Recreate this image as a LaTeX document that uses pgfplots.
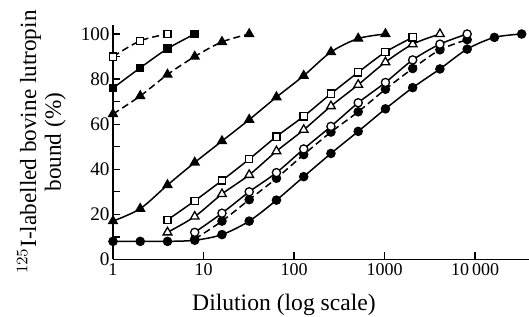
\documentclass[border=0pt]{standalone}
\usepackage{fontspec}
\setmainfont{Liberation Serif}
\usepackage{pgfplots}
\pgfplotsset{compat=1.18}
\begin{document}
\begin{tikzpicture}
\begin{axis}[
  scale only axis,
  width=208pt, height=117.2pt,
  xmode=log, log basis x=10,
  xmin=1, xmax=39500,
  ymin=0, ymax=104,
  axis x line*=bottom, axis y line*=left,
  axis line style={line width=0.75pt,-},
  tick align=inside,
  major tick length=3.5pt, minor tick length=3.5pt,
  tick style={line width=0.65pt,black},
  xtick={1,10,100,1000,10000},
  xticklabels={1,10,100,1000,10\,000},
  xminorticks=false,
  ytick={0,20,40,60,80,100},
  minor ytick={10,30,50,70,90},
  /pgf/number format/assume math mode=true,
  xticklabel style={font=\fontsize{9}{10}\selectfont, inner sep=2pt},
  yticklabel style={font=\fontsize{9.6}{11}\selectfont, inner sep=1.5pt},
  xlabel={Dilution (log scale)},
  xlabel style={font=\fontsize{11.8}{13}\selectfont, at={(axis description cs:0.411,-0.195)}, anchor=center},
  ylabel={$^{125}$I-labelled bovine lutropin\\bound (\%)},
  ylabel style={font=\fontsize{11.6}{12.3}\selectfont, align=center, at={(axis description cs:-0.172,0.5)}, anchor=center},
  clip=false,
  every axis plot/.append style={black, line width=0.75pt, smooth, tension=0.5},
  sq/.style={mark=square*, mark size=1.8pt, mark options={solid, fill=white, line width=0.65pt}},
  fsq/.style={mark=square*, mark size=1.8pt, mark options={solid, fill=black, line width=0.65pt}},
  ci/.style={mark=*, mark size=2.05pt, mark options={solid, fill=white, line width=0.65pt}},
  fci/.style={mark=*, mark size=2.05pt, mark options={solid, fill=black, line width=0.65pt}},
  tr/.style={mark=triangle*, mark size=2.5pt, mark options={solid, fill=white, line width=0.65pt}},
  ftr/.style={mark=triangle*, mark size=2.5pt, mark options={solid, fill=black, line width=0.65pt}},
  dsh/.style={dash pattern=on 3.5pt off 2pt},
]
\coordinate (sw) at (rel axis cs:0,0);
\coordinate (ne) at (rel axis cs:1,1);
% filled circles, solid
\addplot[fci] coordinates {(1,8) (2,8) (4,8) (8,8.5) (16,11) (32,17) (64,26.3) (128,36.7) (256,47) (512,56.8) (1024,66.8) (2048,76.2) (4096,84.5) (8192,93.3) (16384,98.5) (32768,100)};
% filled circles, dashed
\addplot[fci,dsh] coordinates {(8,9) (16,17) (32,26.5) (64,36) (128,46.5) (256,56.5) (512,65.5) (1024,75.5) (2048,84.7) (4096,93) (8192,97.5)};
% open circles, solid
\addplot[ci] coordinates {(8,12) (16,20.5) (32,30) (64,38.5) (128,49) (256,59) (512,69.5) (1024,78.5) (2048,88.5) (4096,95.5) (8192,100)};
% open triangles, solid
\addplot[tr] coordinates {(4,12) (8,19) (16,29) (32,37.5) (64,48) (128,57.5) (256,68) (512,77.5) (1024,87.5) (2048,95.5) (4096,100)};
% open squares, solid
\addplot[sq] coordinates {(4,17.5) (8,26) (16,35) (32,44.5) (64,54.5) (128,63.5) (256,73.5) (512,83) (1024,92) (2048,98.5)};
% filled triangles, solid
\addplot[ftr] coordinates {(1,17) (2,22.5) (4,33) (8,43) (16,52.5) (32,62) (64,72) (128,81.5) (256,92) (512,98) (1024,100)};
% filled triangles, dashed
\addplot[ftr,dsh] coordinates {(1,64.5) (2,72.5) (4,82) (8,90) (16,96.5) (32,100)};
% filled squares, solid
\addplot[fsq] coordinates {(1,76) (2,85) (4,93.5) (8,100)};
% open squares, dashed
\addplot[sq,dsh] coordinates {(1,90) (2,97) (4,100)};
\end{axis}
\pgfresetboundingbox
\path ([shift={(-56.5pt,-28.4pt)}]sw) rectangle ([shift={(0pt,12.5pt)}]ne);
\end{tikzpicture}
\end{document}
